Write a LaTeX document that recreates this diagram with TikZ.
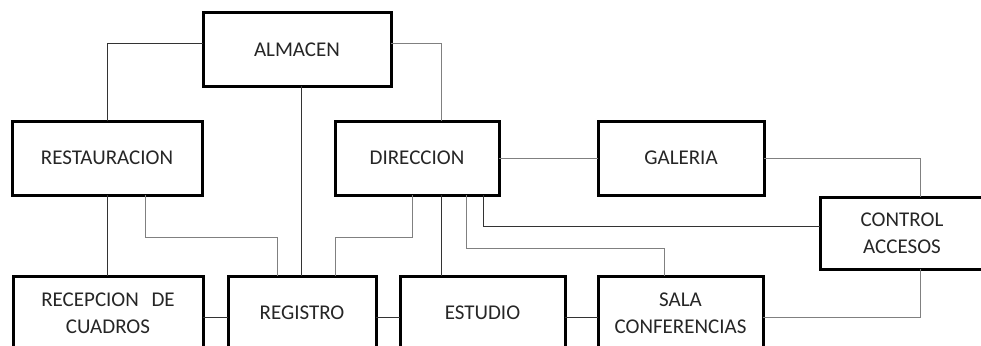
\documentclass[tikz,border=0pt]{standalone}
\usepackage{fontspec}
\setmainfont{Carlito}
\usetikzlibrary{calc}
\begin{document}
\begin{tikzpicture}[x=1pt,y=1pt,
  box/.style={draw=black,line width=3pt,fill=white,align=center,text=black!85,
    font=\fontsize{21}{27}\selectfont,inner sep=0pt,outer sep=0pt},
  conn/.style={draw=black!80,line width=1pt},
  conng/.style={draw=black!50,line width=1pt}]
\useasboundingbox (0,0) rectangle (981,-345);
\clip (0,0) rectangle (981,-345);
\fill[white] (0,0) rectangle (981,-345);
\path
  (297,-49.5) node[box,minimum width=188,minimum height=73] (alm) {ALMACEN}
  (107,-158) node[box,minimum width=190,minimum height=74] (rest) {RESTAURACION}
  (417,-158) node[box,minimum width=164,minimum height=74] (dir) {DIRECCION}
  (681,-158) node[box,minimum width=166,minimum height=74] (gal) {GALERIA}
  (902,-233) node[box,minimum width=164,minimum height=72] (ctrl) {CONTROL\\ACCESOS}
  (108,-313) node[box,minimum width=190,minimum height=74] (recep) {RECEPCION\hspace{0.6em}DE\\CUADROS}
  (302,-313) node[box,minimum width=148,minimum height=74] (reg) {REGISTRO}
  (482.5,-313) node[box,minimum width=165,minimum height=74] (est) {ESTUDIO}
  (680.5,-313) node[box,minimum width=165,minimum height=74] (sala) {SALA\\CONFERENCIAS};
\draw[conn] ($(alm.west)+(0,5.5)$) -| (rest.north);
\draw[conng] ($(alm.east)+(0,5.5)$) -| ($(dir.north)+(24,0)$);
\draw[conn] ($(alm.south)+(4,0)$) -- ($(reg.north)+(-1,0)$);
\draw[conn] (rest.south) -- ($(recep.north)+(-1,0)$);
\draw[conng] ($(rest.south)+(38,0)$) -- ++(0,-42) -| ($(reg.north)+(-25,0)$);
\draw[conng] ($(dir.south)+(-5,0)$) -- ++(0,-42) -| ($(reg.north)+(33,0)$);
\draw[conn] ($(dir.south)+(24,0)$) -- ($(est.north)+(-41.5,0)$);
\draw[conng] ($(dir.south)+(49,0)$) -- ++(0,-53) -| ($(sala.north)+(-16.5,0)$);
\draw[conn] ($(dir.south)+(66,0)$) |- ($(ctrl.west)+(0,7)$);
\draw[conng] (dir.east) -- (gal.west);
\draw[conng] (gal.east) -| ($(ctrl.north)+(18,0)$);
\draw[conng] ($(ctrl.south)+(18,0)$) |- ($(sala.east)+(0,-4)$);
\draw[conn] ($(recep.east)+(0,-4)$) -- ($(reg.west)+(0,-4)$);
\draw[conn] ($(reg.east)+(0,-4)$) -- ($(est.west)+(0,-4)$);
\draw[conn] ($(est.east)+(0,-4)$) -- ($(sala.west)+(0,-4)$);
\end{tikzpicture}
\end{document}
